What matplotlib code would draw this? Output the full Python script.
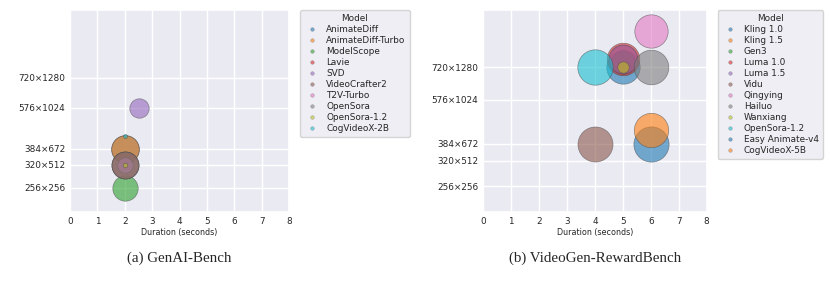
import numpy as np
import matplotlib
matplotlib.use("Agg")
import matplotlib.pyplot as plt
import seaborn as sns
from matplotlib.lines import Line2D

sns.set_theme(style="darkgrid")
plt.rcParams['font.family'] = ['DejaVu Sans']

# ---------------- data ----------------
res_ticks = ["256×256", "320×512", "384×672", "576×1024", "720×1280"]

# Panel (a) GenAI-Bench
models_a = ["AnimateDiff", "AnimateDiff-Turbo", "ModelScope", "Lavie", "SVD",
            "VideoCrafter2", "T2V-Turbo", "OpenSora", "OpenSora-1.2", "CogVideoX-2B"]
dur_a = [2, 2, 2, 2, 2.5, 2, 2, 2, 2, 2]
res_a = ["384×672", "384×672", "256×256", "320×512", "576×1024",
         "320×512", "320×512", "320×512", "320×512", "480×720"]
bubble_a = [395, 395, 334, 378, 195, 378, 123, 378, 11, 8]

# Panel (b) VideoGen-RewardBench
models_b = ["Kling 1.0", "Kling 1.5", "Gen3", "Luma 1.0", "Luma 1.5", "Vidu",
            "Qingying", "Hailuo", "Wanxiang", "OpenSora-1.2", "Easy Animate-v4",
            "CogVideoX-5B"]
dur_b = [5, 5, 5, 5, 5, 4, 6, 6, 5, 4, 6, 6]
res_b = ["720×1280", "752×1360", "768×1280", "752×1360", "752×1360", "384×672",
         "960×1440", "720×1280", "720×1280", "720×1280", "384×672", "480×720"]
bubble_b = [578, 400, 299, 551, 436, 635, 578, 620, 67, 650, 642, 613]

captions = ["(a) GenAI-Bench", "(b) VideoGen-RewardBench"]


def res_value(r):
    h, w = r.split("×")
    return np.sqrt(float(h) * float(w))


colors = plt.get_cmap("tab10").colors

fig = plt.figure(figsize=(8.3, 2.86), dpi=100)
ax_a = fig.add_axes([70 / 830, 1 - 211.7 / 286, 219.3 / 830, 201.4 / 286])
ax_b = fig.add_axes([483.3 / 830, 1 - 211.7 / 286, 223.4 / 830, 201.4 / 286])

panels = [
    (ax_a, models_a, dur_a, res_a, bubble_a, (104, 1393)),
    (ax_b, models_b, dur_b, res_b, bubble_b, (104, 1298)),
]

for i, (ax, models, dur, res, bub, ylim) in enumerate(panels):
    handles = []
    for j, m in enumerate(models):
        c = colors[j % 10]
        ax.scatter([dur[j]], [res_value(res[j])], s=bub[j], color=c, alpha=0.6,
                   edgecolors="0.3", linewidths=0.5, zorder=2)
        handles.append(Line2D([], [], marker="o", linestyle="", color=c,
                              markersize=2.6, alpha=0.6,
                              markeredgecolor="0.4", markeredgewidth=0.3,
                              label=m))
    ax.set_xlim(0, 8)
    ax.set_ylim(*ylim)
    ax.set_xticks(range(0, 9))
    ax.set_yticks([res_value(r) for r in res_ticks])
    ax.set_yticklabels(res_ticks)
    ax.tick_params(axis="both", labelsize=6.4, pad=3.5, length=0)
    ax.set_xlabel("Duration (seconds)", fontsize=5.8, labelpad=1.5)
    ax.legend(handles=handles, title="Model", loc="upper left",
              bbox_to_anchor=(1.0 + 11 / ax.get_position().width / 830, 1.0),
              borderaxespad=0.0,
              fontsize=6.4, title_fontsize=6.4, frameon=True,
              labelspacing=0.22, handletextpad=0.67, borderpad=0.45,
              handlelength=1.8)
    fig.text((ax.get_position().x0 + ax.get_position().x1) / 2, 1 - 258 / 286,
             captions[i], ha="center", va="center", fontsize=10.8,
             family="Liberation Serif")

fig.savefig("out.png", dpi=100)
